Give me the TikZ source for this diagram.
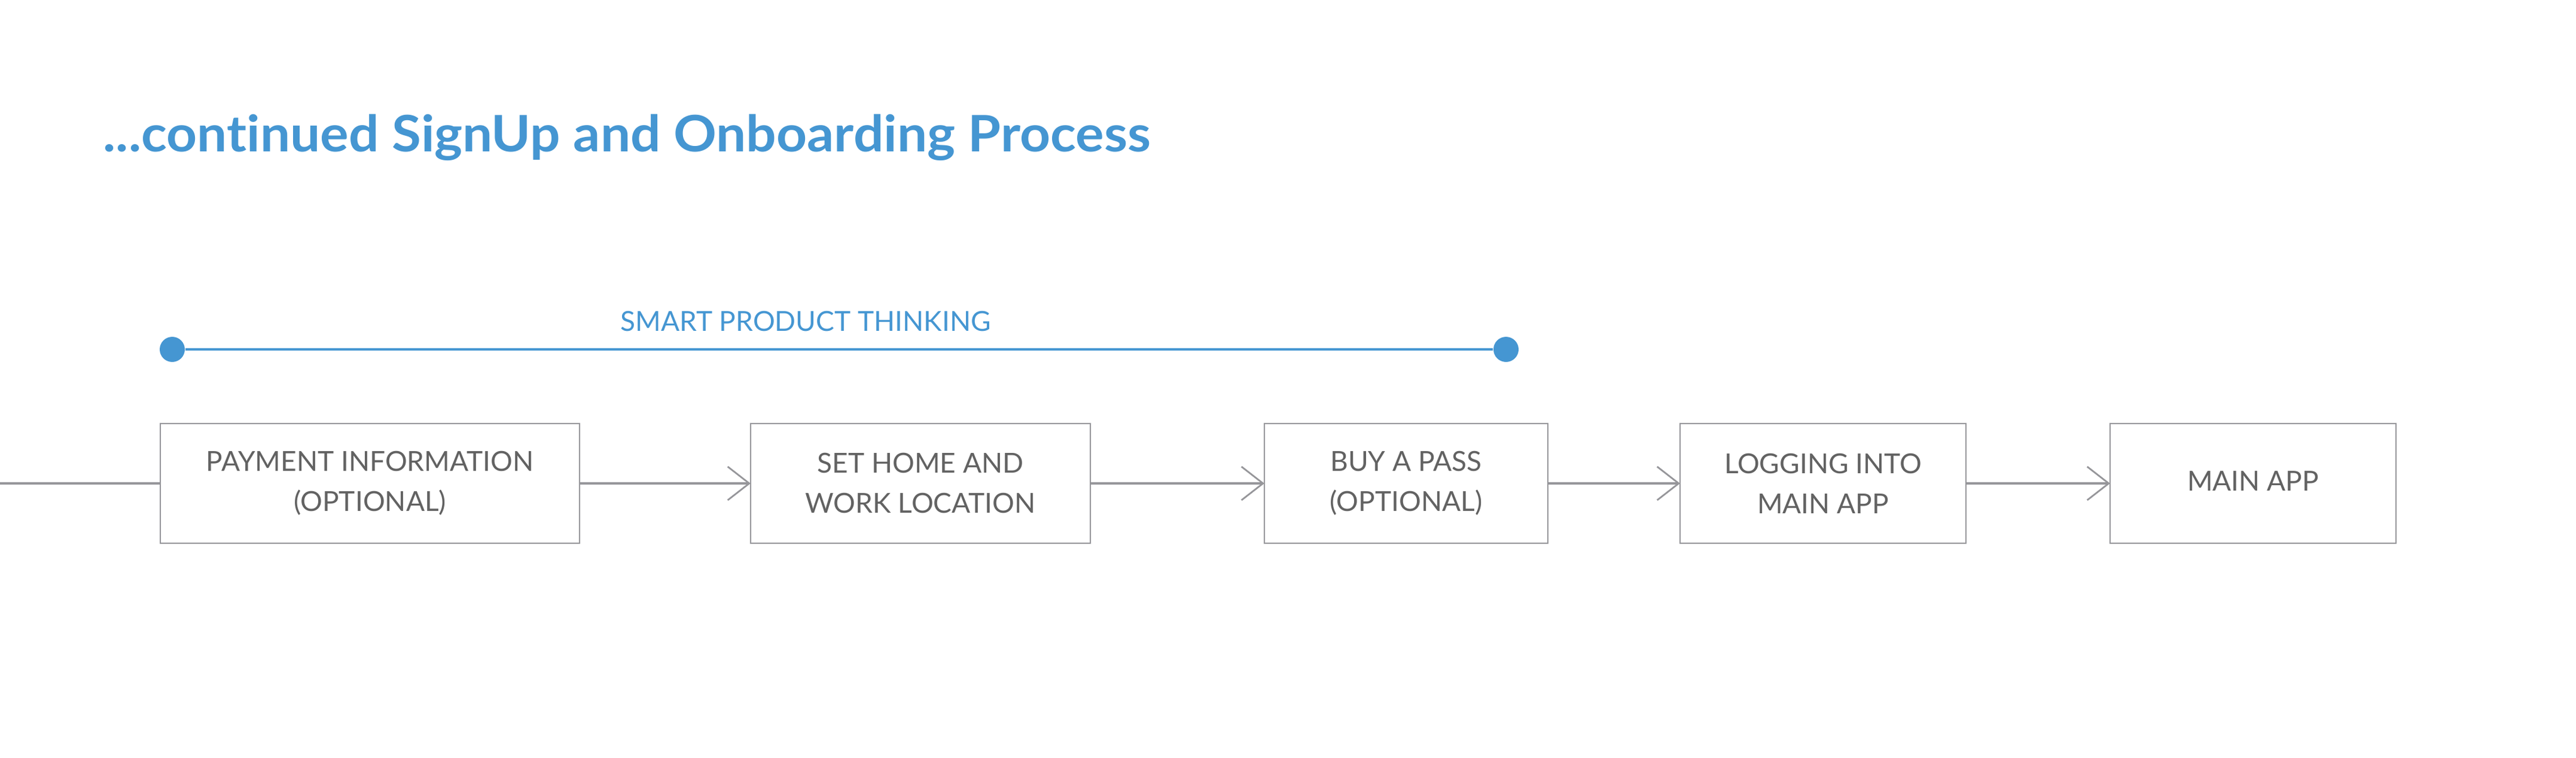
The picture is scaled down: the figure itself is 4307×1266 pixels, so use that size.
\documentclass[tikz,border=0pt]{standalone}
\usepackage{fontspec}
\setmainfont{Lato}[Ligatures=NoCommon]
\newfontfamily\titlefont{Lato}[Ligatures=NoCommon,FakeStretch=1.06]
\usetikzlibrary{arrows.meta}
\definecolor{accent}{HTML}{4596D2}
\definecolor{boxline}{HTML}{96969A}
\definecolor{boxtext}{HTML}{626262}
\tikzset{
  stepbox/.style={draw=boxline, line width=0.7pt, fill=white, inner sep=0pt, outer sep=0pt,
    minimum height=50pt, align=center, text=boxtext,
    font=\fontsize{11.5}{16.75}\selectfont},
  flow/.style={draw=boxline, line width=0.8pt},
  flowarrow/.style={flow, -{Straight Barb[length=9pt,width=14pt,line width=0.7pt]}},
  dot/.style={circle, fill=accent, inner sep=0pt, minimum size=10.5pt},
}
\begin{document}
\begin{tikzpicture}[x=0.25pt,y=-0.25pt]
\useasboundingbox (0,0) rectangle (4307,1266);
% title
\node[anchor=base west, inner sep=0pt, text=accent, font=\titlefont\fontsize{21}{25}\selectfont\bfseries] (title) at (172,253) {...continued SignUp and Onboarding Process};
% smart product thinking
\node[dot] (d1) at (288,584) {};
\node[dot] (d2) at (2518,584) {};
\draw[accent, line width=0.8pt] (d1) -- (d2);
\node[anchor=base, inner sep=0pt, text=accent, font=\fontsize{11.5}{14}\selectfont] (spt) at (1347,553) {SMART PRODUCT THINKING};
% boxes
\node[stepbox, minimum width=175.25pt] (b1) at (618.5,808) {PAYMENT INFORMATION\\(OPTIONAL)};
\node[stepbox, minimum width=142pt] (b2) at (1539,808) {SET HOME AND\\WORK LOCATION};
\node[stepbox, minimum width=118.5pt] (b3) at (2351,808) {BUY A PASS\\(OPTIONAL)};
\node[stepbox, minimum width=119.5pt] (b4) at (3048,808) {LOGGING INTO\\MAIN APP};
\node[stepbox, minimum width=119.5pt] (b5) at (3767,808) {\raisebox{2pt}{MAIN APP}};
\coordinate (start) at (0,808);
\draw[flow] (start) -- (b1);
\draw[flowarrow] (b1) -- (b2);
\draw[flowarrow] (b2) -- (b3);
\draw[flowarrow] (b3) -- (b4);
\draw[flowarrow] (b4) -- (b5);
\end{tikzpicture}
\end{document}
